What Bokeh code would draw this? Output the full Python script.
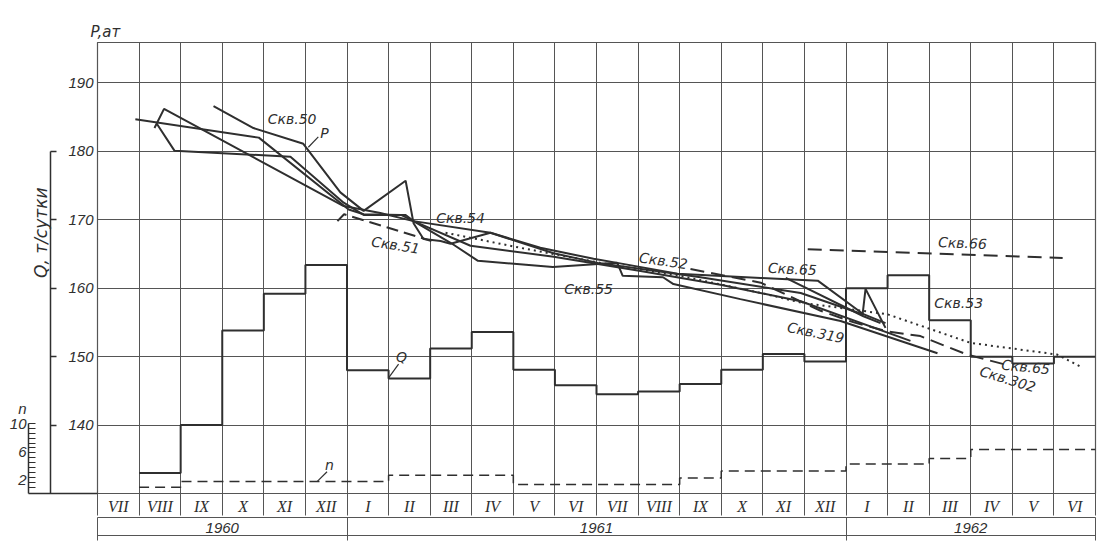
from bokeh.plotting import figure
from bokeh.models import Range1d, LinearAxis, FixedTicker, ColumnDataSource, Title
from bokeh.core.properties import value
from bokeh.embed import file_html
from bokeh.resources import INLINE

# ---------------- data ----------------
months = ["VII", "VIII", "IX", "X", "XI", "XII",
          "I", "II", "III", "IV", "V", "VI", "VII", "VIII", "IX", "X", "XI", "XII",
          "I", "II", "III", "IV", "V", "VI"]
years = ["1960", "1961", "1962"]
year_centers = [3, 12, 21]
year_bounds = [0, 6, 18, 24]
p_ticks = [140, 150, 160, 170, 180, 190]
q_ticks = [140, 150, 160, 170, 180]
n_ticks = [2, 6, 10]

# monthly Q (t/day) and n, from VIII 1960 (month 1) to VI 1962 (month 23)
q_months = list(range(1, 24))
q_values = [133.0, 140.0, 153.8, 159.2, 163.4,
            148.0, 146.8, 151.2, 153.6, 148.1, 145.8, 144.5, 144.9, 146.0, 148.1, 150.4, 149.3,
            160.0, 161.9, 155.3, 150.0, 149.0, 150.0]
n_values = [0.9, 1.7, 1.7, 1.7, 1.7,
            1.7, 2.6, 2.6, 2.6, 1.3, 1.3, 1.3, 1.3, 2.2, 3.2, 3.2, 3.2,
            4.2, 4.2, 5.0, 6.3, 6.3, 6.3]

# pressure curves P (at), x = months since 1 July 1960
curve_a_m = [0.91, 3.88, 6.04, 6.40, 7.30, 7.60, 8.50, 9.15, 10.95, 12.50, 12.63, 13.60, 13.85, 15.46, 17.87, 20.20]
curve_a_p = [184.7, 182.0, 171.5, 170.8, 170.7, 169.8, 166.6, 164.0, 163.1, 163.7, 161.8, 161.6, 160.6, 158.4, 155.2, 150.5]

curve_b_m = [1.37, 1.60, 5.92, 6.80, 7.60, 9.45, 10.65, 11.93, 12.50, 13.95, 15.95, 17.32, 18.42, 18.95]
curve_b_p = [183.4, 186.2, 172.0, 171.0, 169.8, 168.1, 165.9, 164.3, 163.7, 162.1, 161.5, 161.1, 156.2, 154.9]

curve_c_m = [1.43, 1.85, 4.64, 5.92, 6.40, 7.41, 7.60, 8.97, 10.97, 13.06, 14.98, 16.91, 19.55]
curve_c_p = [184.0, 180.1, 179.2, 172.5, 170.7, 170.7, 169.8, 166.2, 164.6, 162.5, 160.5, 158.1, 152.3]

curve_d_m = [2.79, 3.75, 4.95, 5.84, 6.40, 7.41, 7.60, 7.84, 8.25, 8.49, 9.45, 10.97, 12.03, 14.50, 16.91, 18.40, 18.47, 18.95]
curve_d_p = [186.6, 183.4, 181.1, 174.0, 171.3, 175.7, 169.5, 167.2, 166.9, 166.5, 168.1, 165.1, 163.7, 161.6, 159.3, 156.2, 159.9, 154.2]

dotted_m = [8.37, 10.17, 12.10, 14.02, 16.10, 16.91, 18.99, 21.00, 23.08, 23.68]
dotted_p = [168.1, 165.9, 163.7, 161.8, 159.1, 157.9, 156.2, 152.0, 150.3, 148.4]

skv65_m = [16.55, 18.42, 18.83]
skv65_p = [161.5, 155.9, 154.9]

skv66_m = [17.08, 23.21]
skv66_p = [165.7, 164.4]

skv302_m = [14.26, 15.95, 17.39, 18.19, 18.99, 19.79, 20.91, 21.79]
skv302_p = [162.8, 160.8, 156.7, 155.0, 153.7, 153.0, 150.3, 148.9]

skv51_m = [5.77, 5.93, 8.03]
skv51_p = [169.8, 170.8, 166.9]

# ---------------- style ----------------
INK = "#2f2f2f"
GRID = "#555555"
FONT = "DejaVu Sans"
NUM_FONT = "Liberation Sans"

p = figure(width=1108, height=548, x_range=Range1d(0, 24), y_range=Range1d(130, 195.9),
           output_backend="svg", toolbar_location=None,
           min_border_left=97, min_border_right=13, min_border_top=42, min_border_bottom=55,
           background_fill_color="white", border_fill_color="white")
p.outline_line_color = GRID
p.outline_line_width = 1.2
p.extra_y_ranges = {"n": Range1d(0, 64.4)}

p.title.text = "P,ат"
p.title.align = "left"
p.title.offset = -7
p.title.standoff = 3
p.title.text_font = FONT
p.title.text_font_style = "italic"
p.title.text_font_size = "15px"
p.title.text_color = INK

p.xgrid.ticker = FixedTicker(ticks=list(range(1, 24)))
p.ygrid.ticker = FixedTicker(ticks=p_ticks)
for g in (p.xgrid[0], p.ygrid[0]):
    g.grid_line_color = GRID
    g.grid_line_width = 1


def no_ticks(ax):
    ax.major_tick_in = 0
    ax.major_tick_out = 0
    ax.minor_tick_in = 0
    ax.minor_tick_out = 0


# P axis (closest to frame)
pa = p.yaxis[0]
pa.ticker = FixedTicker(ticks=p_ticks)
no_ticks(pa)
pa.axis_line_color = GRID
pa.major_label_standoff = 4
pa.major_label_text_font = NUM_FONT
pa.major_label_text_font_style = "italic"
pa.major_label_text_font_size = "15px"
pa.major_label_text_color = INK

# blank gap between P labels and Q axis line
sp1 = LinearAxis(ticker=FixedTicker(ticks=[195]), major_label_overrides={195: ""},
                 axis_line_color=None, major_tick_line_color="white", minor_tick_line_color=None,
                 major_tick_out=15, major_tick_in=0, minor_tick_out=0, minor_tick_in=0,
                 major_label_standoff=0)
p.add_layout(sp1, "left")

# Q axis (ticks only)
qa = LinearAxis(ticker=FixedTicker(ticks=q_ticks), bounds=(130, 180))
no_ticks(qa)
qa.major_tick_in = 6
qa.axis_line_color = INK
qa.axis_line_width = 1.5
qa.major_tick_line_color = INK
qa.major_tick_line_width = 1.5
qa.major_label_overrides = {t: "" for t in q_ticks}
qa.major_label_standoff = 0
p.add_layout(qa, "left")

# Q axis title
qt = Title(text="Q, т/сутки", align="right", offset=145, standoff=0,
           text_font=FONT, text_font_style="italic", text_font_size="17px", text_color=INK)
p.add_layout(qt, "left")

# baseline under Q/n axes + n axis line
ba = LinearAxis(y_range_name="n", ticker=FixedTicker(ticks=[0]), bounds=(0, 10))
no_ticks(ba)
ba.axis_line_color = INK
ba.axis_line_width = 1.5
ba.major_tick_in = 69
ba.major_tick_line_color = INK
ba.major_tick_line_width = 1.5
ba.major_label_overrides = {0: ""}
ba.major_label_standoff = 0
p.add_layout(ba, "left")

# n axis: labels + small ticks
n_minor = [round(10 - 0.7 * i, 2) for i in range(14)]
na = LinearAxis(y_range_name="n", ticker=FixedTicker(ticks=n_ticks + [12.2], minor_ticks=n_minor),
                bounds=(0, 13))
no_ticks(na)
na.minor_tick_in = 7
na.axis_line_color = None
na.major_tick_line_color = INK
na.minor_tick_line_color = INK
na.minor_tick_line_width = 1.2
na.major_label_overrides = {12.2: "n"}
na.major_label_standoff = 2
na.major_label_text_font = NUM_FONT
na.major_label_text_font_style = "italic"
na.major_label_text_font_size = "15px"
na.major_label_text_color = INK
p.add_layout(na, "left")

# month row
ma = p.xaxis[0]
ma.ticker = FixedTicker(ticks=[i + 0.5 for i in range(24)], minor_ticks=list(range(25)))
ma.major_label_overrides = {i + 0.5: months[i] for i in range(24)}
ma.major_tick_in = 0
ma.major_tick_out = 0
ma.major_tick_line_color = None
ma.minor_tick_in = 0
ma.minor_tick_out = 22
ma.minor_tick_line_color = GRID
ma.axis_line_color = GRID
ma.major_label_standoff = -18
ma.major_label_text_font = "Liberation Serif"
ma.major_label_text_font_style = "italic"
ma.major_label_text_font_size = "16px"
ma.major_label_text_color = INK

# year row
ya = LinearAxis(ticker=FixedTicker(ticks=year_centers, minor_ticks=year_bounds))
ya.major_label_overrides = {c: y for c, y in zip(year_centers, years)}
ya.major_tick_in = 0
ya.major_tick_out = 0
ya.major_tick_line_color = None
ya.minor_tick_in = 0
ya.minor_tick_out = 23
ya.minor_tick_line_color = GRID
ya.axis_line_color = GRID
ya.major_label_standoff = -18
ya.major_label_text_font = NUM_FONT
ya.major_label_text_font_style = "italic"
ya.major_label_text_font_size = "15px"
ya.major_label_text_color = INK
p.add_layout(ya, "below")

bottom = LinearAxis(ticker=FixedTicker(ticks=[]))
no_ticks(bottom)
bottom.axis_line_color = GRID
bottom.major_label_standoff = 0
p.add_layout(bottom, "below")

# ---------------- data marks ----------------
qx = q_months + [24]
p.step(qx, q_values + [q_values[-1]], mode="after", line_color=INK, line_width=2)
p.step(qx, n_values + [n_values[-1]], mode="after", y_range_name="n",
       line_color=INK, line_width=1.5, line_dash="10 6")

for mx, py in [(curve_a_m, curve_a_p), (curve_b_m, curve_b_p), (curve_c_m, curve_c_p),
               (curve_d_m, curve_d_p), (skv65_m, skv65_p)]:
    p.line(mx, py, line_color=INK, line_width=2)
p.line(dotted_m, dotted_p, line_color=INK, line_width=2, line_dash="2 4")
p.line(skv66_m, skv66_p, line_color=INK, line_width=2, line_dash="14 8")
p.line(skv302_m, skv302_p, line_color=INK, line_width=2, line_dash="14 7")
p.line(skv51_m, skv51_p, line_color=INK, line_width=2, line_dash="12 6")

# ---------------- labels ----------------
lab = ColumnDataSource(dict(
    x=[4.68, 5.46, 8.73, 7.17, 13.61, 11.81, 16.71, 20.80, 20.71, 17.27, 22.32, 21.89, 7.31],
    y=[184.7, 182.7, 170.3, 166.3, 164.0, 159.9, 162.8, 166.6, 157.8, 153.5, 148.5, 146.7, 149.9],
    text=["Скв.50", "P", "Скв.54", "Скв.51", "Скв.52", "Скв.55", "Скв.65", "Скв.66",
          "Скв.53", "Скв.319", "Скв.65", "Скв.302", "Q"],
    angle=[0, 0, 0, -0.16, -0.14, 0, -0.05, -0.04, 0, -0.2, -0.1, -0.3, 0],
))
p.text(x="x", y="y", text="text", angle="angle", source=lab,
       text_font=value(FONT), text_font_style="italic", text_font_size="14px",
       text_align="center", text_baseline="middle", text_color=INK)
p.text(x=[5.58], y=[4.1], text=["n"], y_range_name="n",
       text_font=value(FONT), text_font_style="italic", text_font_size="14px",
       text_align="center", text_baseline="middle", text_color=INK)

# leader strokes
p.segment(x0=[5.07, 7.00], y0=[180.6, 146.9], x1=[5.31, 7.24], y1=[182.1, 148.9],
          line_color=INK, line_width=1.2)
p.segment(x0=[5.28], y0=[1.7], x1=[5.52], y1=[3.1], y_range_name="n",
          line_color=INK, line_width=1.2)

open("out.html", "w").write(file_html(p, INLINE))
